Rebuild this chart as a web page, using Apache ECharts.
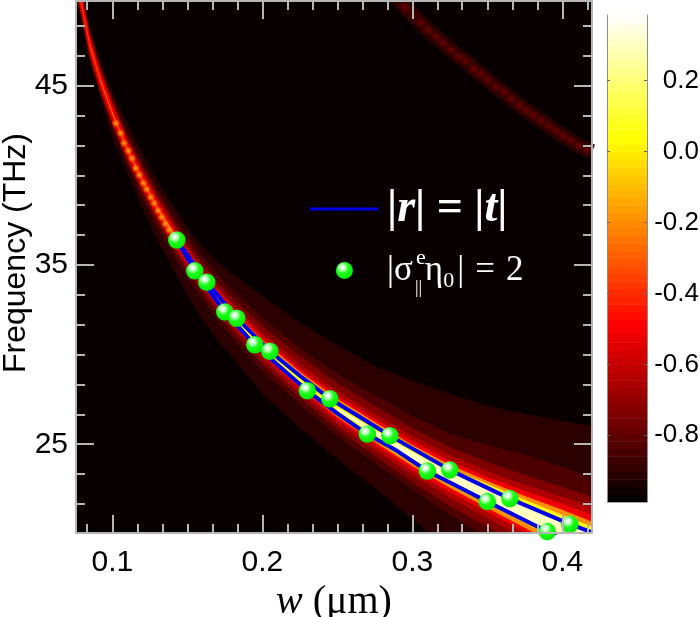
<!DOCTYPE html>
<html>
<head>
<meta charset="utf-8">
<style>html,body{margin:0;padding:0;background:#fff}#c{width:700px;height:617px}</style>
<script src="https://cdn.jsdelivr.net/npm/echarts@6/dist/echarts.min.js"></script>
</head>
<body>
<div id="c"></div>
<script>
// ---- axis ticks ----
const xMajor = [0.1, 0.2, 0.3, 0.4];
const xMinor = [0.0833,0.1167,0.1333,0.15,0.1667,0.1833,0.2167,0.2333,0.25,0.2667,0.2833,0.3167,0.3333,0.35,0.3667,0.3833,0.4167];
const yMajor = [25, 35, 45];
const yMinor = [21.67,23.33,26.67,28.33,30,31.67,33.33,36.67,38.33,40,41.67,43.33,46.67,48.33];
const cbTicks = [-0.8,-0.6,-0.4,-0.2,0,0.2];

// ---- main resonance ridge: w (um), frequency (THz) ----
const ridgeW = [0.077,0.08,0.085,0.092,0.1,0.11,0.12,0.13,0.14,0.15,0.16,0.17,0.18,0.2,0.225,0.25,0.275,0.3,0.325,0.35,0.375,0.4,0.42];
const ridgeF = [50.44,49.33,47.27,45.32,43.48,41.47,39.74,38.18,36.79,35.45,34.27,33.16,32.16,30.43,28.59,26.97,25.63,24.35,23.18,22.17,21.23,20.28,19.50];

// ---- contour levels and their extents above / below the ridge (THz) ----
const levels = [-0.905,-0.837,-0.737,-0.642,-0.516,-0.198,0.055,0.297];
const up1 = [1.00,1.00,1.06,1.12,1.23,1.40,1.51,1.51,1.56,1.62,1.79,2.01,2.34,2.85,3.18,3.57,3.74,4.19,4.63,4.97,5.47,6.03,6.53];
const lo1 = [0.89,0.89,0.89,1.00,1.34,1.34,1.56,1.79,1.95,2.12,2.29,2.34,2.29,2.62,2.68,2.79,3.07,3.52,4.07,4.46,4.91,5.30,5.58];
const up2 = [0.78,0.78,0.84,0.84,0.89,0.95,1.00,1.06,1.12,1.18,1.23,1.34,1.45,1.62,1.79,1.95,2.12,2.23,2.40,2.79,3.18,3.46,3.63];
const lo2 = [0.78,0.78,0.84,0.84,0.84,0.89,1.00,1.06,1.12,1.18,1.17,1.23,1.23,1.34,1.40,1.51,1.67,1.84,2.12,2.34,2.57,2.79,3.01];
const up3 = [0.67,0.67,0.67,0.67,0.70,0.72,0.75,0.78,0.80,0.84,0.84,0.89,1.00,1.17,1.34,1.45,1.51,1.56,1.67,1.84,2.06,2.34,2.57];
const lo3 = [0.67,0.67,0.67,0.67,0.67,0.70,0.72,0.78,0.80,0.80,0.78,0.84,0.84,0.95,1.00,1.12,1.28,1.45,1.62,1.79,2.01,2.23,2.46];
const up4 = [0.56,0.56,0.56,0.56,0.58,0.56,0.56,0.58,0.58,0.58,0.56,0.61,0.67,0.78,0.89,1.00,1.06,1.12,1.23,1.34,1.51,1.79,2.01];
const lo4 = [0.56,0.56,0.56,0.56,0.52,0.52,0.52,0.56,0.58,0.56,0.50,0.56,0.61,0.67,0.73,0.84,0.95,1.06,1.17,1.28,1.51,1.73,1.95];
const up5 = [0.45,0.45,0.45,0.40,0.42,0.38,0.38,0.38,0.38,0.40,0.39,0.45,0.50,0.56,0.61,0.73,0.78,0.84,0.89,1.00,1.17,1.40,1.56];
const lo5 = [0.45,0.45,0.45,0.40,0.38,0.38,0.36,0.36,0.38,0.36,0.33,0.39,0.45,0.45,0.50,0.61,0.67,0.78,0.84,0.95,1.12,1.34,1.51];
const up6 = [0.06,0.06,0.06,0.06,0.06,0.06,0.06,0.06,0.17,0.17,0.22,0.22,0.28,0.39,0.45,0.56,0.61,0.61,0.67,0.78,0.89,1.06,1.17];
const lo6 = [0.06,0.06,0.06,0.06,0.06,0.06,0.06,0.06,0.17,0.17,0.17,0.22,0.28,0.33,0.39,0.45,0.50,0.56,0.61,0.73,0.89,1.06,1.17];
const up7 = [0,0,0,0,0,0,0,0,0,0,0,0,0.11,0.22,0.33,0.39,0.45,0.50,0.50,0.61,0.67,0.78,0.89];
const lo7 = [0,0,0,0,0,0,0,0,0,0,0,0,0.11,0.17,0.28,0.33,0.39,0.39,0.45,0.50,0.61,0.73,0.84];
const up8 = [0,0,0,0,0,0,0,0,0,0,0,0,0,0,0,0.06,0.17,0.22,0.28,0.33,0.45,0.56,0.67];
const lo8 = [0,0,0,0,0,0,0,0,0,0,0,0,0,0,0,0.06,0.11,0.17,0.22,0.28,0.39,0.50,0.61];
const bandUp = [up1,up2,up3,up4,up5,up6,up7,up8];
const bandLo = [lo1,lo2,lo3,lo4,lo5,lo6,lo7,lo8];

// ---- beads on the narrow part of the main ridge ----
const beadW = [0.1023,0.1056,0.1078,0.1107,0.1131,0.1156,0.118,0.1207,0.1229,0.1256,0.128,0.1305,0.1329,0.1353,0.1378,0.1403];
const beadF = [42.90,42.35,41.79,41.37,40.95,40.39,40.02,39.56,39.22,38.78,38.44,38.03,37.66,37.29,36.95,36.6];

// ---- second (weak) mode ridge ----
const mode2W = [0.2851,0.2918,0.2951,0.3056,0.3105,0.3158,0.3205,0.3258,0.3309,0.3358,0.3409,0.3458,0.3505,0.3558,0.3609,0.3658,0.3711,0.3758,0.3805,0.3858,0.3909,0.3958,0.4009,0.4058,0.4109,0.4163,0.4198];
const mode2F = [50.34,49.78,49.39,48.51,48.11,47.73,47.38,46.99,46.62,46.38,45.93,45.65,45.32,44.93,44.65,44.27,43.92,43.64,43.37,43.05,42.75,42.47,42.19,41.93,41.65,41.45,41.32];

// ---- |r| = |t| curves ----
const rtUpperW = [0.143,0.163,0.183,0.205,0.225,0.245,0.265,0.285,0.325,0.365,0.405,0.4195];
const rtUpperF = [36.39,34.04,32.03,30.19,28.82,27.54,26.52,25.48,23.57,21.97,20.54,20.1];
const rtLowerW = [0.143,0.155,0.175,0.195,0.23,0.25,0.27,0.29,0.31,0.35,0.39,0.396];
const rtLowerF = [36.39,34.67,32.38,30.55,27.99,26.72,25.57,24.62,23.51,21.80,20.13,19.9];

// ---- |sigma e eta0| = 2 points ----
const sigmaW = [0.143,0.155,0.163,0.175,0.183,0.195,0.205,0.23,0.245,0.27,0.285,0.31,0.325,0.35,0.365,0.39,0.405];
const sigmaF = [36.39,34.67,34.04,32.38,32.03,30.55,30.19,27.99,27.54,25.57,25.48,23.51,23.57,21.80,21.97,20.13,20.54];

const cbMin = -0.988, cbMax = 0.385, cbSteps = 64;
const bgLevel = -0.973;

function clamp(v){return Math.max(0,Math.min(1,v));}
function hot(v){
  const t=(v-cbMin)/(cbMax-cbMin);
  const r=Math.round(255*clamp(t/0.365)),g=Math.round(255*clamp((t-0.365)/0.381)),b=Math.round(255*clamp((t-0.746)/0.254));
  return 'rgb('+r+','+g+','+b+')';
}
const zipXY=(a,b)=>a.map((v,i)=>[v,b[i]]);
const frame='#b6b6b6';
const nameR='|r| = |t|', nameS='|σ∥ᵉη₀| = 2';

function xAxisDef(pos,values,len,withLabel){
  return {type:'value',gridIndex:0,position:pos,min:0.0758,max:0.4198,z:10,
    axisLine:{show:true,onZero:false,lineStyle:{color:frame,width:2}},
    axisTick:{show:true,inside:true,length:len,customValues:values,lineStyle:{color:frame,width:2}},
    axisLabel:withLabel?{show:true,customValues:values,margin:15,color:'#000',fontFamily:'Liberation Sans',fontSize:30,formatter:v=>v.toFixed(1)}:{show:false},
    splitLine:{show:false},
    ...(withLabel?{name:'{i|w} ({m|μm})',nameLocation:'middle',nameGap:49,nameMoveOverlap:false,
      nameTextStyle:{fontFamily:'Liberation Serif',fontSize:40,color:'#000',rich:{i:{fontFamily:'Liberation Serif',fontStyle:'italic',fontSize:40,color:'#000'},m:{fontFamily:'Liberation Serif',fontSize:40,color:'#000'}}}}:{})};
}
function yAxisDef(pos,values,len,withLabel){
  return {type:'value',gridIndex:0,position:pos,min:20.05,max:49.72,z:10,
    axisLine:{show:true,onZero:false,lineStyle:{color:frame,width:2}},
    axisTick:{show:true,inside:true,length:len,customValues:values,lineStyle:{color:frame,width:2}},
    axisLabel:withLabel?{show:true,customValues:values,margin:8,color:'#000',fontFamily:'Liberation Sans',fontSize:30}:{show:false},
    splitLine:{show:false},
    ...(withLabel?{name:'Frequency (THz)',nameLocation:'middle',nameGap:44,nameRotate:90,nameMoveOverlap:false,
      nameTextStyle:{fontFamily:'Liberation Sans',fontSize:32,color:'#000',padding:[0,0,0,28]}}:{})};
}
function cbAxis(pos,withLabel){
  return {type:'value',gridIndex:1,position:pos,min:cbMin,max:cbMax,z:10,
    axisLine:{show:true,onZero:false,lineStyle:{color:'#8c8c8c',width:1}},
    axisTick:{show:true,inside:true,length:3,customValues:cbTicks,lineStyle:{color:'#666',width:1}},
    axisLabel:withLabel?{show:true,customValues:cbTicks,margin:52,color:'#000',align:'right',fontFamily:'Liberation Sans',fontSize:26,
      formatter:v=>v.toFixed(1)}:{show:false},
    splitLine:{show:false}};
}

const sphere={type:'radial',x:0.38,y:0.33,r:0.72,colorStops:[{offset:0,color:'#ffffff'},{offset:0.2,color:'#d0ffd0'},{offset:0.48,color:'#18ff18'},{offset:1,color:'#00e800'}]};

const cbData=[];
for(let i=0;i<cbSteps;i++){cbData.push([cbMin+(cbMax-cbMin)*i/cbSteps,cbMin+(cbMax-cbMin)*(i+1)/cbSteps,cbMin+(cbMax-cbMin)*(i+0.5)/cbSteps]);}

const chart=echarts.init(document.getElementById('c'),null,{renderer:'canvas'});
chart.setOption({
  animation:false,
  backgroundColor:'#ffffff',
  grid:[
    {left:76,top:1,width:516,height:532,show:true,backgroundColor:hot(bgLevel),borderWidth:0,outerBoundsMode:'none',containLabel:false},
    {left:607,top:15,width:40,height:487,show:false,outerBoundsMode:'none',containLabel:false}
  ],
  xAxis:[
    xAxisDef('bottom',xMajor,18,true),xAxisDef('bottom',xMinor,9,false),
    xAxisDef('top',xMajor,18,false),xAxisDef('top',xMinor,9,false),
    {type:'value',gridIndex:1,min:0,max:1,position:'bottom',z:10,axisLine:{show:true,onZero:false,lineStyle:{color:'#a8a8a8',width:1}},axisTick:{show:false},axisLabel:{show:false},splitLine:{show:false}}
  ],
  yAxis:[
    yAxisDef('left',yMajor,18,true),yAxisDef('left',yMinor,9,false),
    yAxisDef('right',yMajor,18,false),yAxisDef('right',yMinor,9,false),
    cbAxis('left',false),cbAxis('right',true)
  ],
  legend:[
    {data:[nameR],left:305,top:181,orient:'vertical',icon:'rect',itemWidth:68,itemHeight:3,selectedMode:false,
     formatter:()=>'{a||}{b|r}{a|| = |}{b|t}{a||}',
     textStyle:{color:'#fff',padding:[0,0,0,4],rich:{
       a:{fontFamily:'Liberation Serif',fontWeight:'bold',fontSize:46,color:'#fff'},
       b:{fontFamily:'Liberation Serif',fontWeight:'bold',fontStyle:'italic',fontSize:46,color:'#fff'}}}},
    {data:[nameS],left:331,top:248,orient:'vertical',itemWidth:17,itemHeight:17,selectedMode:false,
     formatter:()=>'{a||σ}{s| }{a|η}{d|0}{g| }{a||}{h| }{a|=}{h| }{a|2}',
     textStyle:{color:'#fff',padding:[0,0,0,29],rich:{
       a:{fontFamily:'Liberation Serif',fontSize:35,color:'#fff'},
       s:{width:12,fontSize:35},
       g:{width:3,fontSize:35},
       h:{width:11,fontSize:35},
       d:{fontFamily:'Liberation Serif',fontSize:22,color:'#fff',padding:[22,0,0,0]}}}}
  ],
  graphic:[
    {type:'text',z:100,left:416,top:247,style:{text:'e',fill:'#fff',font:'22px "Liberation Serif"'}},
    {type:'text',z:100,left:415,top:279,style:{text:'||',fill:'#fff',font:'18px "Liberation Serif"'}}
  ],
  series:[
    {name:'contours',type:'custom',xAxisIndex:0,yAxisIndex:0,clip:true,silent:true,z:2,
     data:levels.map((v,i)=>[i,v]),
     encode:{x:-1,y:-1},
     renderItem:function(params,api){
       const i=api.value(0),up=bandUp[i],lo=bandLo[i],pts=[],back=[];
       ridgeW.forEach((w,k)=>{ if(up[k]>0||lo[k]>0){
         pts.push(api.coord([w,ridgeF[k]+up[k]]));
         back.unshift(api.coord([w,ridgeF[k]-lo[k]]));
       }});
       return {type:'polygon',shape:{points:pts.concat(back)},style:{fill:hot(api.value(1))}};
     }},
    {name:'mode2glow',type:'line',xAxisIndex:0,yAxisIndex:0,data:zipXY(mode2W,mode2F),symbol:'none',z:3,silent:true,clip:true,
     lineStyle:{color:hot(-0.9),width:15}},
    {name:'mode2core',type:'line',xAxisIndex:0,yAxisIndex:0,data:zipXY(mode2W,mode2F),symbol:'none',z:3,silent:true,clip:true,
     lineStyle:{color:hot(-0.87),width:7}},
    {name:'mode2beads',type:'scatter',xAxisIndex:0,yAxisIndex:0,data:zipXY(mode2W,mode2F).slice(2,-1),symbol:'circle',symbolSize:10,z:3,silent:true,clip:true,
     itemStyle:{opacity:1,color:{type:'radial',x:0.5,y:0.5,r:0.5,colorStops:[{offset:0,color:'rgba(110,0,0,1)'},{offset:0.5,color:'rgba(100,0,0,0.6)'},{offset:1,color:'rgba(90,0,0,0)'}]}}},
    {name:'beads',type:'scatter',xAxisIndex:0,yAxisIndex:0,data:zipXY(beadW,beadF),symbol:'circle',symbolSize:9,z:3,silent:true,clip:true,
     itemStyle:{opacity:1,color:{type:'radial',x:0.5,y:0.5,r:0.5,colorStops:[{offset:0,color:'rgba(255,170,30,1)'},{offset:0.5,color:'rgba(255,120,0,0.7)'},{offset:1,color:'rgba(255,50,0,0)'}]}}},
    {name:nameR,type:'line',xAxisIndex:0,yAxisIndex:0,data:zipXY(rtUpperW,rtUpperF),symbol:'none',z:4,clip:true,silent:true,
     lineStyle:{color:'#0000e8',width:4},itemStyle:{color:'#0000e8'}},
    {name:'lower',type:'line',xAxisIndex:0,yAxisIndex:0,data:zipXY(rtLowerW,rtLowerF),symbol:'none',z:4,clip:true,silent:true,
     lineStyle:{color:'#0000e8',width:4}},
    {name:nameS,type:'scatter',xAxisIndex:0,yAxisIndex:0,data:zipXY(sigmaW,sigmaF),symbol:'circle',symbolSize:17.5,z:5,clip:true,silent:true,
     itemStyle:{opacity:1,color:sphere}},
    {name:'colorbar',type:'custom',xAxisIndex:4,yAxisIndex:4,clip:true,silent:true,z:2,
     data:cbData,encode:{x:-1,y:-1},
     renderItem:function(params,api){
       const a=api.coord([0,api.value(1)]),b=api.coord([1,api.value(0)]);
       return {type:'rect',shape:{x:a[0],y:a[1],width:b[0]-a[0],height:b[1]-a[1]+0.5},style:{fill:hot(api.value(2))}};
     }}
  ]
});
</script>
</body>
</html>
